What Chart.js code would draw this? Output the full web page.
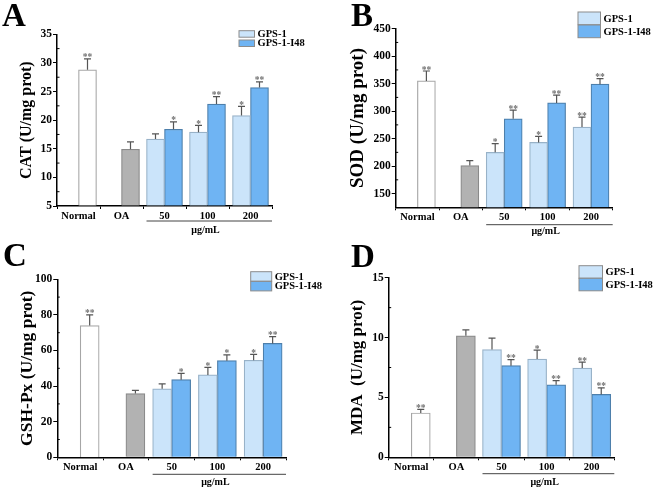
<!DOCTYPE html>
<html><head><meta charset="utf-8">
<script src="https://cdn.jsdelivr.net/npm/chart.js@4/dist/chart.umd.min.js"></script>
<style>
html,body{margin:0;padding:0;background:#fff;width:658px;height:489px;overflow:hidden;}
canvas{position:absolute;}
.letter{position:absolute;font-family:"Liberation Serif","Times New Roman",serif;font-weight:bold;font-size:33px;line-height:1;color:#000;}
</style></head><body>
<canvas id="cA" width="329" height="245" style="left:0;top:0"></canvas>
<canvas id="cB" width="329" height="245" style="left:329px;top:0"></canvas>
<canvas id="cC" width="329" height="244" style="left:0;top:245px"></canvas>
<canvas id="cD" width="329" height="244" style="left:329px;top:245px"></canvas>
<div class="letter" style="left:2px;top:-1px">A</div>
<div class="letter" style="left:351px;top:-1px">B</div>
<div class="letter" style="left:3px;top:239px">C</div>
<div class="letter" style="left:351px;top:240px">D</div>
<script>
// ---------- shared labels ----------
const categories = ['Normal', 'OA', '50', '100', '200'];
const unitLabel = 'μg/mL';
const seriesNames = ['GPS-1', 'GPS-1-I48'];

// ---------- Panel A: CAT ----------
const catTicks   = [5, 10, 15, 20, 25, 30, 35];
const catCtrl    = [28.8, 14.9, null, null, null];
const catCtrlErr = [1.9, 1.3, null, null, null];
const catCtrlSig = ['**', '', '', '', ''];
const catGps     = [null, null, 16.7, 17.9, 20.8];
const catGpsErr  = [null, null, 0.9, 1.2, 1.6];
const catGpsSig  = ['', '', '', '*', '*'];
const catI48     = [null, null, 18.4, 22.8, 25.7];
const catI48Err  = [null, null, 1.3, 1.3, 1.0];
const catI48Sig  = ['', '', '*', '**', '**'];

// ---------- Panel B: SOD ----------
const sodTicks   = [150, 200, 250, 300, 350, 400, 450];
const sodCtrl    = [355, 201, null, null, null];
const sodCtrlErr = [18, 9, null, null, null];
const sodCtrlSig = ['**', '', '', '', ''];
const sodGps     = [null, null, 225, 243, 271];
const sodGpsErr  = [null, null, 16, 11, 18];
const sodGpsSig  = ['', '', '*', '*', '**'];
const sodI48     = [null, null, 286, 315, 349];
const sodI48Err  = [null, null, 16, 14, 10];
const sodI48Sig  = ['', '', '**', '**', '**'];

// ---------- Panel C: GSH-Px ----------
const gshTicks   = [0, 20, 40, 60, 80, 100];
const gshCtrl    = [74, 35.8, null, null, null];
const gshCtrlErr = [6, 1.8, null, null, null];
const gshCtrlSig = ['**', '', '', '', ''];
const gshGps     = [null, null, 38.5, 46.3, 54.5];
const gshGpsErr  = [null, null, 2.8, 4.2, 3.3];
const gshGpsSig  = ['', '', '', '*', '*'];
const gshI48     = [null, null, 43.6, 54.3, 64];
const gshI48Err  = [null, null, 3.6, 3.2, 3.8];
const gshI48Sig  = ['', '', '*', '*', '**'];

// ---------- Panel D: MDA ----------
const mdaTicks   = [0, 5, 10, 15];
const mdaCtrl    = [3.7, 10.15, null, null, null];
const mdaCtrlErr = [0.3, 0.5, null, null, null];
const mdaCtrlSig = ['**', '', '', '', ''];
const mdaGps     = [null, null, 9.0, 8.2, 7.45];
const mdaGpsErr  = [null, null, 0.95, 0.75, 0.5];
const mdaGpsSig  = ['', '', '', '*', '**'];
const mdaI48     = [null, null, 7.65, 6.05, 5.25];
const mdaI48Err  = [null, null, 0.5, 0.35, 0.55];
const mdaI48Sig  = ['', '', '**', '**', '**'];

// ---------- styling ----------
const SERIF = '"Liberation Serif", "Times New Roman", serif';
const COL = {
  gpsFill: '#cbe4fa', gpsLine: '#98b2c8',
  i48Fill: '#6fb4f3', i48Line: '#4d7fab',
  normalFill: '#ffffff', normalLine: '#a6a6a6',
  oaFill: '#b2b2b2', oaLine: '#8a8a8a',
  err: '#555555', star: '#707070'
};

const decor = {
  id: 'decor',
  afterDatasetsDraw(chart, args, o) {
    const ctx = chart.ctx, ys = chart.scales.y;
    chart.data.datasets.forEach((ds, di) => {
      const meta = chart.getDatasetMeta(di);
      meta.data.forEach((bar, i) => {
        const v = ds.data[i];
        if (v === null || v === undefined) return;
        const e = ds.errors[i] || 0;
        const yTop = ys.getPixelForValue(v), yE = ys.getPixelForValue(v + e);
        ctx.save();
        ctx.strokeStyle = COL.err; ctx.lineWidth = 1.2;
        ctx.beginPath();
        ctx.moveTo(bar.x, yTop); ctx.lineTo(bar.x, yE);
        ctx.moveTo(bar.x - 3.5, yE); ctx.lineTo(bar.x + 3.5, yE);
        ctx.stroke();
        const s = ds.sig[i];
        if (s) {
          ctx.fillStyle = COL.star;
          ctx.font = 'bold 9.5px ' + SERIF;
          ctx.textAlign = 'center'; ctx.textBaseline = 'alphabetic';
          ctx.fillText(s, bar.x, yE + 1.5);
        }
        ctx.restore();
      });
    });
  },
  afterDraw(chart, args, o) {
    const ctx = chart.ctx, ys = chart.scales.y, xs = chart.scales.x, ca = chart.chartArea;
    ctx.save();
    // minor ticks (inside)
    const tv = ys.ticks.map(t => t.value);
    const step = tv[1] - tv[0];
    ctx.strokeStyle = '#000'; ctx.lineWidth = 1;
    tv.forEach(v => {
      const m = v + step / 2;
      if (m < ys.max) {
        const p = ys.getPixelForValue(m);
        ctx.beginPath(); ctx.moveTo(ca.left, p); ctx.lineTo(ca.left + 2.5, p); ctx.stroke();
      }
    });
    // underline + unit under dose groups
    const yl = ca.bottom + o.lineGap;
    ctx.strokeStyle = '#444'; ctx.lineWidth = 1;
    ctx.beginPath();
    ctx.moveTo(xs.getPixelForValue(2) - o.bar, yl); ctx.lineTo(ca.right, yl); ctx.stroke();
    ctx.fillStyle = '#000';
    ctx.font = 'bold 10px ' + SERIF;
    ctx.textAlign = 'center'; ctx.textBaseline = 'middle';
    ctx.fillText(unitLabel, xs.getPixelForValue(3) - 2, ca.bottom + o.unitGap);
    // legend
    const L = o.legend;
    const items = chart.data.datasets.filter(d => d.inLegend);
    items.forEach((d, k) => {
      const bx = ca.right + L.dx, by = ca.top + L.dy + k * L.step;
      ctx.fillStyle = d.backgroundColor;
      ctx.fillRect(bx, by, L.w, L.h);
      ctx.strokeStyle = '#8c8c8c'; ctx.lineWidth = 1;
      ctx.strokeRect(bx, by, L.w, L.h);
      ctx.fillStyle = '#000';
      ctx.font = 'bold ' + L.font + 'px ' + SERIF;
      ctx.textAlign = 'left'; ctx.textBaseline = 'middle';
      ctx.fillText(d.label, bx + L.w + 3, by + L.h / 2 + 0.5);
    });
    ctx.restore();
  }
};

function makePanel(id, p) {
  const datasets = [
    { label: seriesNames[0], data: p.gps, errors: p.gpsErr, sig: p.gpsSig, stack: 'L', inLegend: true,
      backgroundColor: COL.gpsFill, borderColor: COL.gpsLine },
    { label: 'Control', data: p.ctrl, errors: p.ctrlErr, sig: p.ctrlSig, stack: 'R', inLegend: false,
      backgroundColor: c => c.dataIndex === 0 ? COL.normalFill : COL.oaFill,
      borderColor: c => c.dataIndex === 0 ? COL.normalLine : COL.oaLine },
    { label: seriesNames[1], data: p.i48, errors: p.i48Err, sig: p.i48Sig, stack: 'R', inLegend: true,
      backgroundColor: COL.i48Fill, borderColor: COL.i48Line }
  ];
  datasets.forEach(d => { d.borderWidth = 1.2; d.barThickness = p.bar; d.base = p.ymin; d.borderSkipped = 'bottom'; });
  new Chart(document.getElementById(id), {
    type: 'bar',
    data: { labels: categories, datasets },
    options: {
      responsive: false, animation: false, devicePixelRatio: 1,
      layout: { padding: { top: p.top, right: p.right, bottom: 0, left: 0 } },
      plugins: { legend: { display: false }, tooltip: { enabled: false }, decor: p.decor },
      scales: {
        x: {
          offset: true,
          grid: { display: true, drawOnChartArea: false, tickLength: 3, color: '#000', lineWidth: 1 },
          border: { display: true, color: '#000', width: 1.5 },
          ticks: { color: '#000', padding: 1, font: { family: SERIF, weight: 'bold', size: 10.5 }, maxRotation: 0 },
          afterFit: s => { s.height = p.xh; }
        },
        y: {
          min: p.ymin, max: p.ymax,
          afterBuildTicks: s => { s.ticks = p.ticks.map(v => ({ value: v })); },
          grid: { display: true, drawOnChartArea: false, tickLength: 4, color: '#000', lineWidth: 1 },
          border: { display: true, color: '#000', width: 1.5 },
          ticks: { color: '#000', padding: 1, font: { family: SERIF, weight: 'bold', size: 11.5 } },
          title: { display: true, text: p.title, color: '#000',
                   font: { family: SERIF, weight: 'bold', size: p.tsize }, padding: { top: p.tpad, bottom: 0 } },
          afterFit: s => { s.width = p.left; }
        }
      }
    },
    plugins: [decor]
  });
}

makePanel('cA', {
  ctrl: catCtrl, ctrlErr: catCtrlErr, ctrlSig: catCtrlSig,
  gps: catGps, gpsErr: catGpsErr, gpsSig: catGpsSig,
  i48: catI48, i48Err: catI48Err, i48Sig: catI48Sig,
  ticks: catTicks, ymin: 5, ymax: 35, title: 'CAT (U/mg prot)', tsize: 16, tpad: 17.4,
  left: 57, top: 34.3, right: 57, xh: 39, bar: 18,
  decor: { bar: 18, lineGap: 15, unitGap: 24,
    legend: { dx: -33, dy: -3.6, w: 15.5, h: 6.5, step: 9.3, font: 10.5 } }
});
makePanel('cB', {
  ctrl: sodCtrl, ctrlErr: sodCtrlErr, ctrlSig: sodCtrlSig,
  gps: sodGps, gpsErr: sodGpsErr, gpsSig: sodGpsSig,
  i48: sodI48, i48Err: sodI48Err, i48Sig: sodI48Sig,
  ticks: sodTicks, ymin: 125, ymax: 450, title: 'SOD (U/mg prot)', tsize: 19, tpad: 17.6,
  left: 66.7, top: 28.7, right: 45.3, xh: 37.7, bar: 18,
  decor: { bar: 18, lineGap: 17.4, unitGap: 24,
    legend: { dx: -34.7, dy: -16.7, w: 22.5, h: 12.7, step: 13, font: 10.5 } }
});
makePanel('cC', {
  ctrl: gshCtrl, ctrlErr: gshCtrlErr, ctrlSig: gshCtrlSig,
  gps: gshGps, gpsErr: gshGpsErr, gpsSig: gshGpsSig,
  i48: gshI48, i48Err: gshI48Err, i48Sig: gshI48Sig,
  ticks: gshTicks, ymin: 0, ymax: 100, title: 'GSH-Px (U/mg prot)', tsize: 17.5, tpad: 16.5,
  left: 57.3, top: 34.3, right: 43, xh: 31.7, bar: 19,
  decor: { bar: 19, lineGap: 17, unitGap: 25,
    legend: { dx: -35.3, dy: -7.6, w: 21, h: 9.5, step: 9.7, font: 10.5 } }
});
makePanel('cD', {
  ctrl: mdaCtrl, ctrlErr: mdaCtrlErr, ctrlSig: mdaCtrlSig,
  gps: mdaGps, gpsErr: mdaGpsErr, gpsSig: mdaGpsSig,
  i48: mdaI48, i48Err: mdaI48Err, i48Sig: mdaI48Sig,
  ticks: mdaTicks, ymin: 0, ymax: 15, title: 'MDA  (U/mg prot)', tsize: 17, tpad: 18.8,
  left: 59.7, top: 32.7, right: 43.7, xh: 31.7, bar: 19,
  decor: { bar: 19, lineGap: 16.4, unitGap: 25,
    legend: { dx: -35.3, dy: -12, w: 23.5, h: 12.5, step: 12.6, font: 10.5 } }
});
</script>
</body></html>
